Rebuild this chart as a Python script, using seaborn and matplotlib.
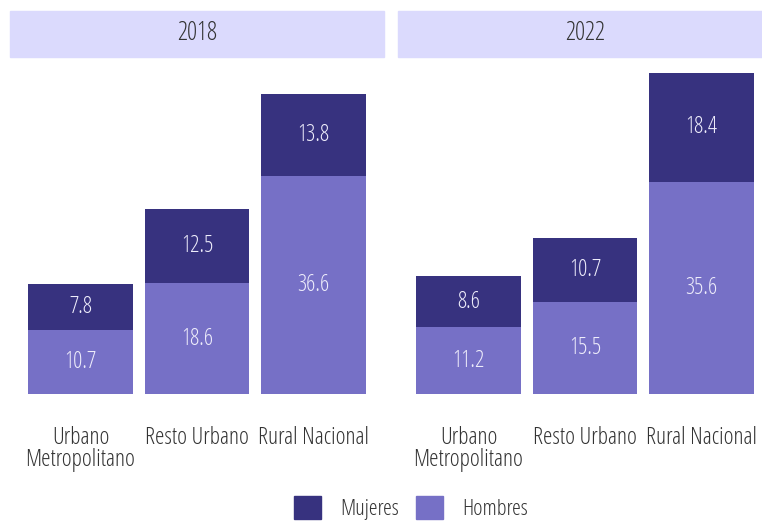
import matplotlib
matplotlib.use("Agg")
import matplotlib.pyplot as plt
from matplotlib.patches import Rectangle, Patch
import seaborn as sns
import pandas as pd

# data
years = ["2018", "2022"]
categorias = ["Urbano\nMetropolitano", "Resto Urbano", "Rural Nacional"]
hombres_2018 = [10.7, 18.6, 36.6]
mujeres_2018 = [7.8, 12.5, 13.8]
hombres_2022 = [11.2, 15.5, 35.6]
mujeres_2022 = [8.6, 10.7, 18.4]

c_muj = "#37327f"
c_hom = "#7670c6"
c_head = "#dbdafd"
c_text = "#333333"
c_lab = "#eeedfb"

sns.set_style("white")
# Open Sans Condensed Light is installed as Open Sans / condensed / 300
plt.rcParams["font.family"] = ["Open Sans", "DejaVu Sans"]
plt.rcParams["font.stretch"] = "condensed"
plt.rcParams["font.weight"] = 300

fig = plt.figure(figsize=(7.62, 5.21), dpi=100)
W, H = 762, 521

def px_axes(x0, y_top, w, y_bot):
    return fig.add_axes([x0 / W, (H - y_bot) / H, w / W, (y_bot - y_top) / H])

panels = [
    (years[0], hombres_2018, mujeres_2018, 10),
    (years[1], hombres_2022, mujeres_2022, 398),
]

for year, hom, muj, x0 in panels:
    ax = px_axes(x0, 60, 374, 394)
    df = pd.DataFrame({"cat": categorias, "Hombres": hom, "Mujeres": muj})
    df["Total"] = df["Hombres"] + df["Mujeres"]
    sns.barplot(data=df, x="cat", y="Total", color=c_muj, width=0.9,
                saturation=1, ax=ax, zorder=2, linewidth=0)
    sns.barplot(data=df, x="cat", y="Hombres", color=c_hom, width=0.9,
                saturation=1, ax=ax, zorder=3, linewidth=0)
    for i, r in df.iterrows():
        ax.text(i, r["Hombres"] / 2, f"{r['Hombres']:.1f}", ha="center",
                va="center", color=c_lab, fontsize=16.5, zorder=4)
        ax.text(i, r["Hombres"] + r["Mujeres"] / 2, f"{r['Mujeres']:.1f}",
                ha="center", va="center", color=c_lab, fontsize=16.5, zorder=4)
    ax.set_xlim(-0.605, 2.605)
    ax.set_ylim(0, 56.1)
    ax.set_xlabel("")
    ax.set_ylabel("")
    ax.set_yticks([])
    ax.tick_params(axis="x", length=0, pad=23, labelsize=17, labelcolor=c_text)
    for lab in ax.get_xticklabels():
        lab.set_linespacing(0.88)
    sns.despine(ax=ax, left=True, bottom=True)

    # facet header
    fig.patches.append(Rectangle((x0 / W, (H - 57) / H), 374 / W, 46 / H,
                                 transform=fig.transFigure, color=c_head,
                                 zorder=0))
    fig.text((x0 + 187) / W, (H - 34) / H, year, ha="center", va="center",
             fontsize=18, color=c_text)

handles = [Patch(color=c_muj, label="Mujeres"), Patch(color=c_hom, label="Hombres")]
fig.legend(handles=handles, loc="center", bbox_to_anchor=(411 / W, 13 / H),
           ncol=2, frameon=False, fontsize=16, handlelength=1.2,
           handleheight=1.2, handletextpad=0.85, columnspacing=0.8,
           labelcolor=c_text, borderpad=0.2)

fig.savefig("out.png", dpi=100)
